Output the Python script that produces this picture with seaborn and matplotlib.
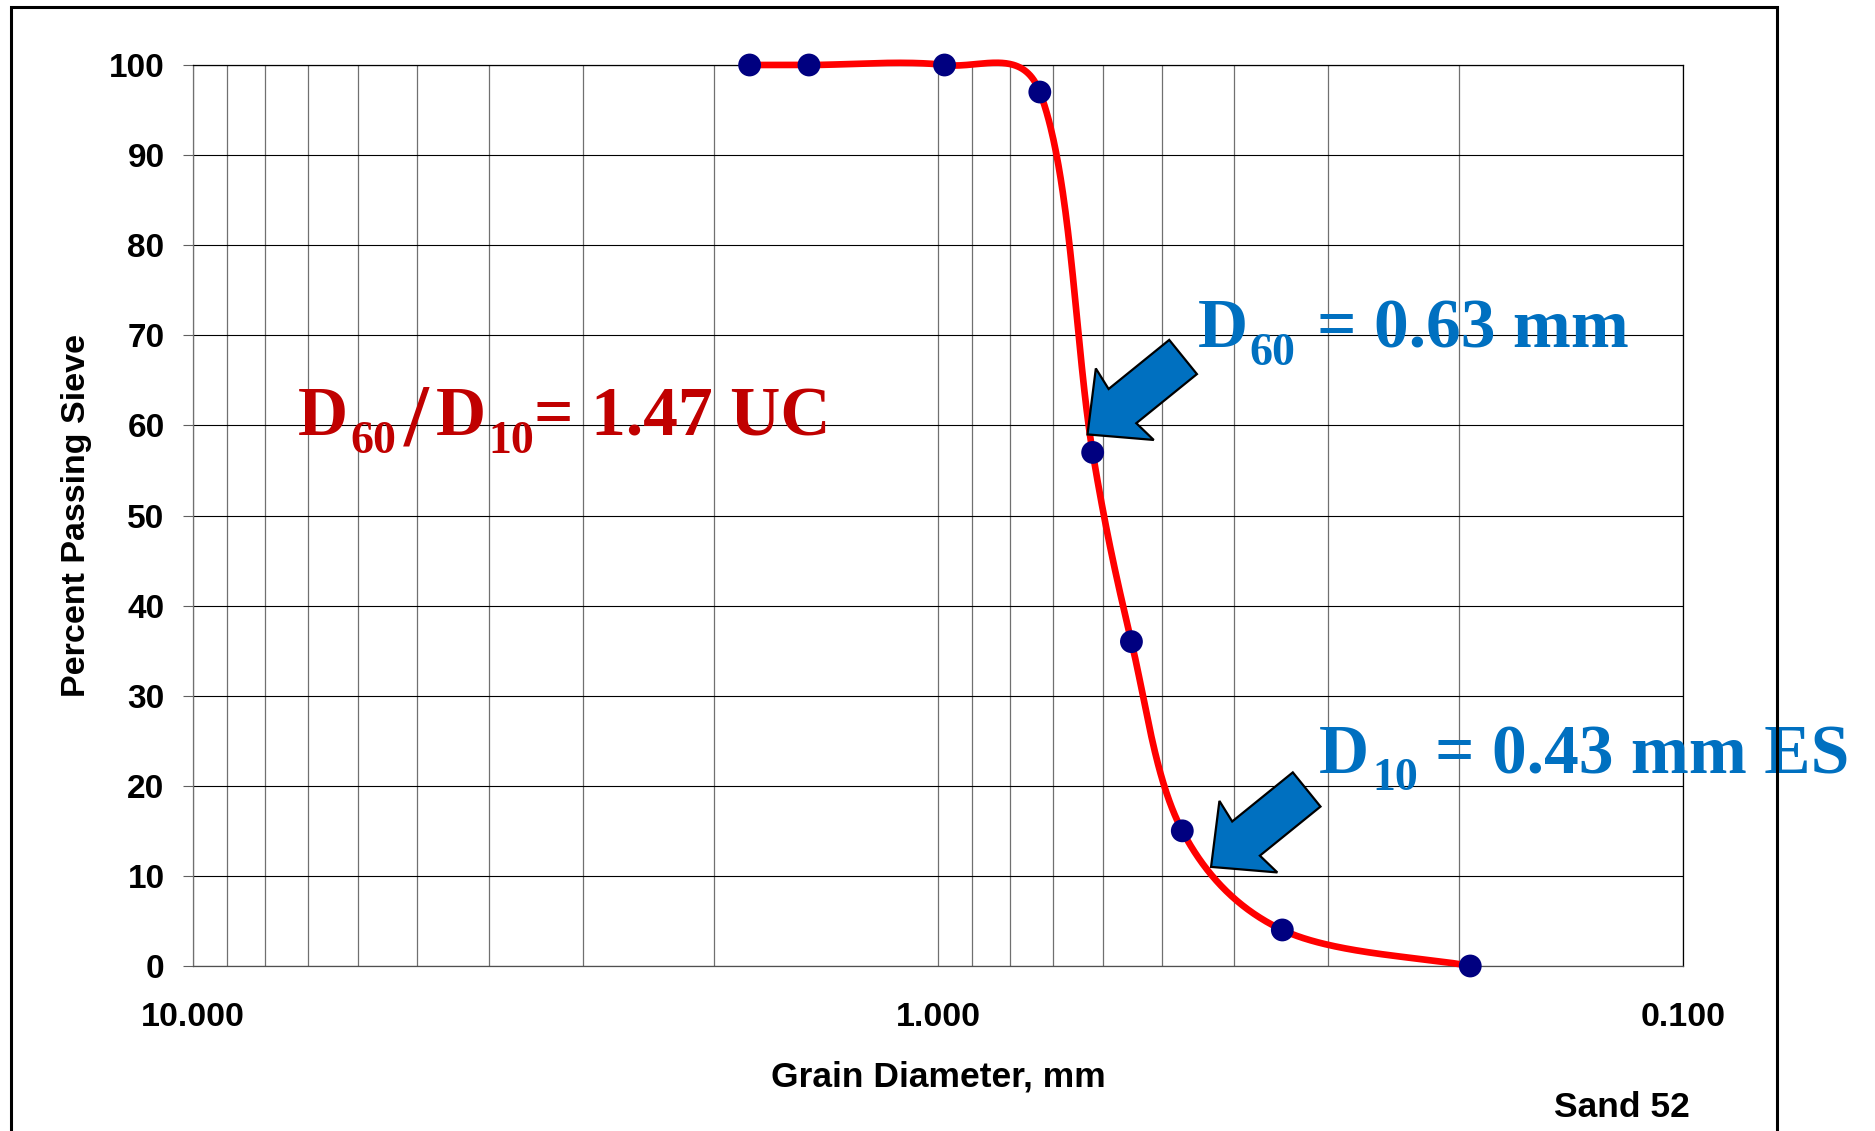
import numpy as np
import matplotlib
matplotlib.use("Agg")
import matplotlib.pyplot as plt
import seaborn as sns
from matplotlib.patches import Polygon, Rectangle
from matplotlib.ticker import FixedLocator, LogLocator, NullFormatter

# Sieve analysis of Sand 52
grain_diameter_mm = [1.79, 1.49, 0.98, 0.73, 0.62, 0.55, 0.47, 0.345, 0.193]
percent_passing = [100, 100, 100, 97, 57, 36, 15, 4, 0]

x_tick_values = [10.0, 1.0, 0.1]
x_tick_labels = ["10.000", "1.000", "0.100"]
y_tick_values = list(range(0, 101, 10))

d60_mm = 0.63
d10_mm = 0.43
uniformity_coefficient = 1.47
sample_name = "Sand 52"

sns.set_theme(style="white")
plt.rcParams["font.family"] = ["Liberation Sans", "DejaVu Sans"]

W, H = 1875, 1131
fig = plt.figure(figsize=(W / 100, H / 100), dpi=100)
fig.patch.set_facecolor("white")
ax = fig.add_axes([193 / W, 1 - 966 / H, (1683 - 193) / W, (966 - 65) / H])
ax.set_facecolor("white")

ax.set_xscale("log")
ax.set_xlim(10, 0.1)
ax.set_ylim(0, 100)


def smooth_screen(P, n=80):
    """Cubic Bezier smoothing through points given in screen coordinates."""
    Pe = np.vstack([P[0], P, P[-1]])
    t = np.linspace(0, 1, n)[:, None]
    parts = []
    for i in range(len(P) - 1):
        p0, p1, p2, p3 = Pe[i], Pe[i + 1], Pe[i + 2], Pe[i + 3]
        d01 = np.linalg.norm(p1 - p0)
        d12 = np.linalg.norm(p2 - p1)
        d23 = np.linalg.norm(p3 - p2)
        t1, t2 = p2 - p0, p3 - p1
        w1 = t1 * d12 / (d01 + d12) / 3.0
        w2 = t2 * d12 / (d12 + d23) / 3.0
        c1 = p1 + 0.5 * (t1 / 6.0 + w1)
        c2 = p2 - 0.5 * (t2 / 6.0 + w2)
        seg = (1 - t) ** 3 * p1 + 3 * (1 - t) ** 2 * t * c1 + 3 * (1 - t) * t ** 2 * c2 + t ** 3 * p2
        parts.append(seg if i == 0 else seg[1:])
    return np.vstack(parts)


pts_screen = ax.transData.transform(np.column_stack([grain_diameter_mm, percent_passing]))
curve = ax.transData.inverted().transform(smooth_screen(pts_screen))
cx, cy = curve[:, 0], curve[:, 1]

sns.lineplot(x=cx, y=cy, sort=False, estimator=None, color="#FF0000",
             linewidth=4.8, ax=ax, zorder=3)
sns.scatterplot(x=grain_diameter_mm, y=percent_passing, s=270, color="#000080",
                edgecolor="none", linewidth=0, ax=ax, zorder=4)
for art in ax.lines + ax.collections:
    art.set_clip_on(False)

# grid and ticks
ax.xaxis.set_major_locator(FixedLocator(x_tick_values))
ax.set_xticklabels(x_tick_labels)
ax.xaxis.set_minor_locator(LogLocator(base=10, subs=np.arange(2, 10)))
ax.xaxis.set_minor_formatter(NullFormatter())
ax.yaxis.set_major_locator(FixedLocator(y_tick_values))
ax.set_yticklabels([str(v) for v in y_tick_values])

ax.grid(True, which="major", axis="y", color="black", linewidth=0.8)
ax.grid(True, which="both", axis="x", color="#707070", linewidth=0.9)
ax.set_axisbelow(True)

ax.tick_params(axis="x", which="major", direction="out", length=8, width=0.9,
               color="#606060", pad=18, labelsize=24.5, labelcolor="black")
ax.tick_params(axis="x", which="minor", length=0)
ax.tick_params(axis="y", which="major", direction="out", length=7.5, width=0.8,
               color="#606060", pad=13, labelsize=24, labelcolor="black",
               left=True)
for lab in ax.get_xticklabels() + ax.get_yticklabels():
    lab.set_fontweight("bold")

for side, col in [("left", "#707070"), ("bottom", "#505050"), ("top", "black"), ("right", "black")]:
    ax.spines[side].set_visible(True)
    ax.spines[side].set_color(col)
    ax.spines[side].set_linewidth(0.9)

ax.set_xlabel("Grain Diameter, mm", fontsize=25.5, fontweight="bold", color="black")
ax.xaxis.set_label_coords(0.5, -(1061 - 966) / (966 - 65))
ax.set_ylabel("Percent Passing Sieve", fontsize=24.5, fontweight="bold", color="black")
ax.yaxis.set_label_coords(-(193 - 92) / (1683 - 193), 0.5)

fig.text(1690 / W, 1 - 1117 / H, sample_name, ha="right", va="baseline",
         fontsize=25.5, fontweight="bold", color="black")

# annotations: serif bold text with lowered subscripts
MAIN, SUB, SLASH = 50, 33, 64
blue = "#0070C0"
red = "#C00000"


def rich_text(baseline, pieces, color):
    """pieces: (left x in px, string, font size, drop below baseline in px)."""
    for x, s, size, drop in pieces:
        fig.text(x / W, 1 - (baseline + drop) / H, s,
                 ha="left", va="baseline", color=color,
                 family="Liberation Serif", weight="bold", size=size)


rich_text(347, [(1198, "D", MAIN, 0), (1249, "60", SUB, 18),
                (1317, f"= {d60_mm:.2f} mm", MAIN, 0)], blue)
rich_text(773, [(1319, "D", MAIN, 0), (1372, "10", SUB, 17),
                (1435, f"= {d10_mm:.2f} mm ES", MAIN, 0)], blue)
rich_text(435, [(298, "D", MAIN, 0), (350, "60", SUB, 18), (404, "/", SLASH, 10),
                (436, "D", MAIN, 0), (488, "10", SUB, 18),
                (534, f"= {uniformity_coefficient:.2f} UC", MAIN, 0)], red)


def block_arrow(tip, length=123, head_len=45, head_half=46, shaft_half=22, angle=39):
    e = np.array([np.cos(np.radians(angle)), np.sin(np.radians(angle))])
    n = np.array([-e[1], e[0]])
    local = [(0, 0), (head_len + 3, head_half), (head_len, shaft_half), (length, shaft_half),
             (length, -shaft_half), (head_len, -shaft_half), (head_len + 3, -head_half)]
    pts = [tip + u * e + v * n for u, v in local]
    return Polygon(pts, closed=True, transform=None, facecolor=blue,
                   edgecolor="black", linewidth=1.6, zorder=6)


fig.canvas.draw()
for d, p in [(d60_mm, 59), (d10_mm, 11)]:
    tip = ax.transData.transform((d, p))
    fig.add_artist(block_arrow(np.array(tip)))

# outer chart frame
fig.add_artist(Rectangle((11 / W, -0.1), (1777 - 11) / W, 1.1 - 7 / H,
                         transform=fig.transFigure, fill=False,
                         edgecolor="black", linewidth=2.2, zorder=10))

fig.savefig("out.png", dpi=100, facecolor="white")
